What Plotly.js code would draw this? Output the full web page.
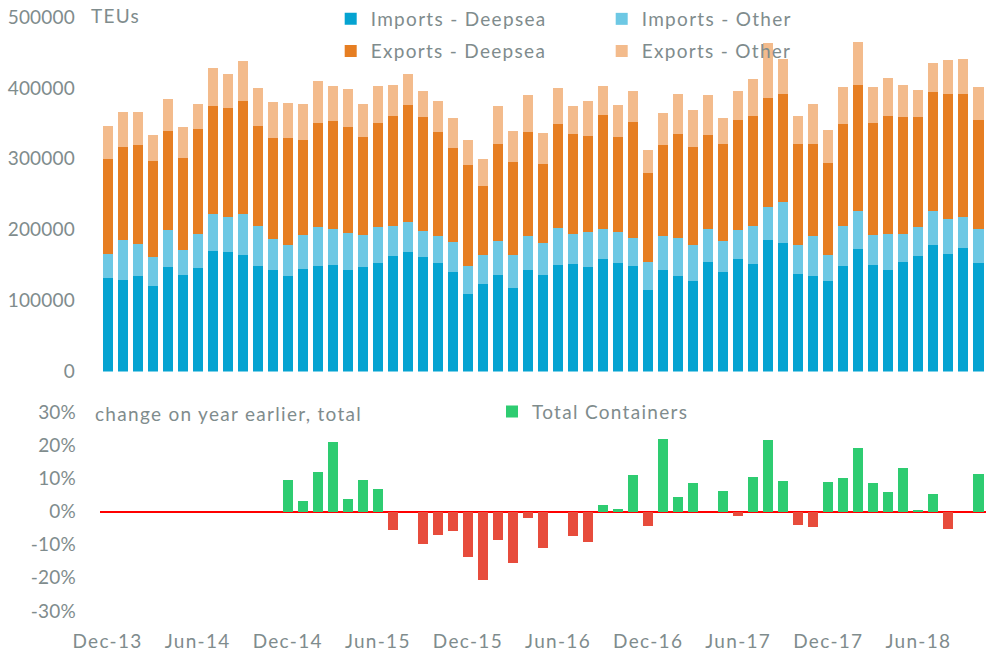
<!DOCTYPE html>
<html><head><meta charset="utf-8">
<script src="https://cdn.plot.ly/plotly-3.0.1.min.js"></script>
<style>
html,body{margin:0;padding:0;background:#fff}
#chart{width:998px;height:658px}
text { letter-spacing: 1.3px; }
.ytick text, .y2tick text { letter-spacing: 0.2px; }
</style>
</head><body><div id="chart"></div>
<script>
const months = [
  "Dec-13",
  "Jan-14","Feb-14","Mar-14","Apr-14","May-14","Jun-14","Jul-14","Aug-14","Sep-14","Oct-14","Nov-14","Dec-14",
  "Jan-15","Feb-15","Mar-15","Apr-15","May-15","Jun-15","Jul-15","Aug-15","Sep-15","Oct-15","Nov-15","Dec-15",
  "Jan-16","Feb-16","Mar-16","Apr-16","May-16","Jun-16","Jul-16","Aug-16","Sep-16","Oct-16","Nov-16","Dec-16",
  "Jan-17","Feb-17","Mar-17","Apr-17","May-17","Jun-17","Jul-17","Aug-17","Sep-17","Oct-17","Nov-17","Dec-17",
  "Jan-18","Feb-18","Mar-18","Apr-18","May-18","Jun-18","Jul-18","Aug-18","Sep-18","Oct-18"
];

const importsDeepsea = [
  131200,128400,134000,121300,146800,135500,145400,169400,168000,163800,
  148200,142500,134000,144000,148200,149600,142500,146800,152500,162400,
  168000,161000,152500,139700,110000,124100,135500,117100,142500,135500,
  149600,151000,146800,158100,152500,148200,115600,142500,134000,127000,
  153900,139700,158100,151000,185000,180800,136900,134000,127000,148200,
  172300,149600,142500,153900,162400,178000,165200,173700,152500
];
const importsOther = [
  34000,56600,45300,39600,52400,35400,48100,52400,49600,58100,
  56600,43900,43900,48100,55200,51000,52400,45300,51000,42500,
  42500,36800,38200,42500,38200,39600,48100,46700,48100,45300,
  52400,42500,49600,42500,43900,39600,38200,48100,53800,51000,
  46700,43900,41100,53800,46700,58100,41100,56600,36800,56600,
  53800,42500,51000,39600,41100,48100,49600,43900,48100
];
const exportsDeepsea = [
  134500,131700,140200,135900,140200,130300,148700,152900,154300,160000,
  141600,143000,151500,134500,147300,152900,150100,138800,147300,155800,
  165700,161400,147300,133100,143000,97700,137400,131700,147300,111900,
  147300,141600,135900,161400,134500,164300,126000,128900,147300,138800,
  133100,137400,155800,155800,154300,152900,143000,130300,130300,144500,
  178400,158600,167100,165700,155800,168500,177000,174200,154300
];
const exportsOther = [
  46700,49600,46700,36800,45300,43900,35400,53800,48100,56600,
  53800,51000,49600,51000,59500,49600,53800,46700,52400,43900,
  43900,36800,43900,42500,35400,38200,53800,43900,52400,43900,
  51000,39600,49600,41100,45300,43900,32600,45300,56600,52400,
  56600,36800,41100,52400,77900,49600,39600,56600,46700,52400,
  60900,51000,53800,45300,38200,41100,48100,49600,46700
];
// year-on-year change of total containers, %
const yoyChange = [
  null,null,null,null,null,null,null,null,null,null,null,null,
  9.6,3.2,12.0,20.9,3.8,9.6,6.9,-5.6,0,-9.8,
  -7.1,-5.9,-13.7,-20.7,-8.6,-15.6,-1.9,-11.0,0,-7.4,
  -9.2,2.0,0.8,11.1,-4.3,22.0,4.4,8.7,0,6.3,
  -1.3,10.5,21.7,9.3,-4.0,-4.6,9.0,10.2,19.3,8.7,
  6.0,13.2,0.5,5.4,-5.3,0,11.4
];
const xTickLabels = ["Dec-13","Jun-14","Dec-14","Jun-15","Dec-15","Jun-16","Dec-16","Jun-17","Dec-17","Jun-18"];
const topTickVals = [0,100000,200000,300000,400000,500000];
const topTickText = ["0","100000","200000","300000","400000","500000"];
const pctTickVals = [-30,-20,-10,0,10,20,30];
const pctTickText = ["-30%","-20%","-10%","0%","10%","20%","30%"];

const FONT = 'Lato, "Open Sans", sans-serif';
const GREY = '#7f8c8d';
const C_ID = '#05a3d1', C_IO = '#6dc8e4', C_ED = '#e67e22', C_EO = '#f3bb8c';
const C_POS = '#2ecc71', C_NEG = '#e74c3c';

function stackTrace(name, vals, color, legendId){
  return {type:'bar', name:name, x:months, y:vals, xaxis:'x', yaxis:'y',
    marker:{color:color, line:{width:0}}, legend:legendId, hoverinfo:'skip'};
}
const traces = [
  stackTrace('Imports - Deepsea', importsDeepsea, C_ID, 'legend'),
  stackTrace('Imports - Other', importsOther, C_IO, 'legend'),
  stackTrace('Exports - Deepsea', exportsDeepsea, C_ED, 'legend3'),
  stackTrace('Exports - Other', exportsOther, C_EO, 'legend3'),
  {type:'bar', name:'Total Containers', x:months, y:yoyChange, xaxis:'x', yaxis:'y2',
    marker:{color: yoyChange.map(v => (v === null || v >= 0) ? C_POS : C_NEG), line:{width:0}},
    legend:'legend2', hoverinfo:'skip'}
];

const legendBase = {orientation:'h', xref:'container', yref:'container', xanchor:'left',
  entrywidth:226, entrywidthmode:'pixels', traceorder:'normal', bgcolor:'rgba(0,0,0,0)',
  font:{family:FONT, size:19, color:GREY}};

const layout = {
  width:998, height:658,
  margin:{l:100, r:12, t:17, b:47, autoexpand:false},
  paper_bgcolor:'#fff', plot_bgcolor:'#fff',
  font:{family:FONT, size:19, color:GREY},
  barmode:'stack', bargap:0.333,
  showlegend:true,
  xaxis:{type:'category', categoryorder:'array', categoryarray:months,
    tickmode:'array', tickvals:xTickLabels, ticktext:xTickLabels,
    showgrid:false, zeroline:false, showline:false, ticks:'',
    anchor:'y2', range:[-0.5, months.length-0.5],
    tickfont:{family:FONT, size:19, color:GREY}, ticklabelstandoff:17},
  yaxis:{domain:[0.4032,1], range:[0,500000], tickmode:'array', tickvals:topTickVals, ticktext:topTickText,
    showgrid:false, zeroline:false, showline:false, ticks:'',
    tickfont:{family:FONT, size:19, color:GREY}, ticklabelstandoff:24},
  yaxis2:{domain:[0,0.335], range:[-30,30], tickmode:'array', tickvals:pctTickVals, ticktext:pctTickText,
    showgrid:false, zeroline:true, zerolinecolor:'#ff0000', zerolinewidth:2, showline:false, ticks:'',
    tickfont:{family:FONT, size:19, color:GREY}, ticklabelstandoff:23},
  legend: Object.assign({}, legendBase, {x:330.7/998, y:1, yanchor:'top'}),
  legend3: Object.assign({}, legendBase, {x:330.7/998, y:1-32.2/658, yanchor:'top'}),
  legend2: Object.assign({}, legendBase, {x:492/998, y:1-411.7/658, yanchor:'middle', entrywidth:0}),
  annotations:[
    {text:'TEUs', xref:'paper', yref:'paper', x:(88.7-100)/886, y:(611-15.8)/594, xanchor:'left', yanchor:'middle',
      showarrow:false, font:{family:FONT, size:19, color:GREY}},
    {text:'change on year earlier, total', xref:'paper', yref:'paper', x:(93-100)/886, y:(611-413)/594,
      xanchor:'left', yanchor:'middle', showarrow:false, font:{family:FONT, size:19, color:GREY}}
  ]
};

Plotly.newPlot('chart', traces, layout, {displayModeBar:false, staticPlot:true});
</script>
</body></html>
